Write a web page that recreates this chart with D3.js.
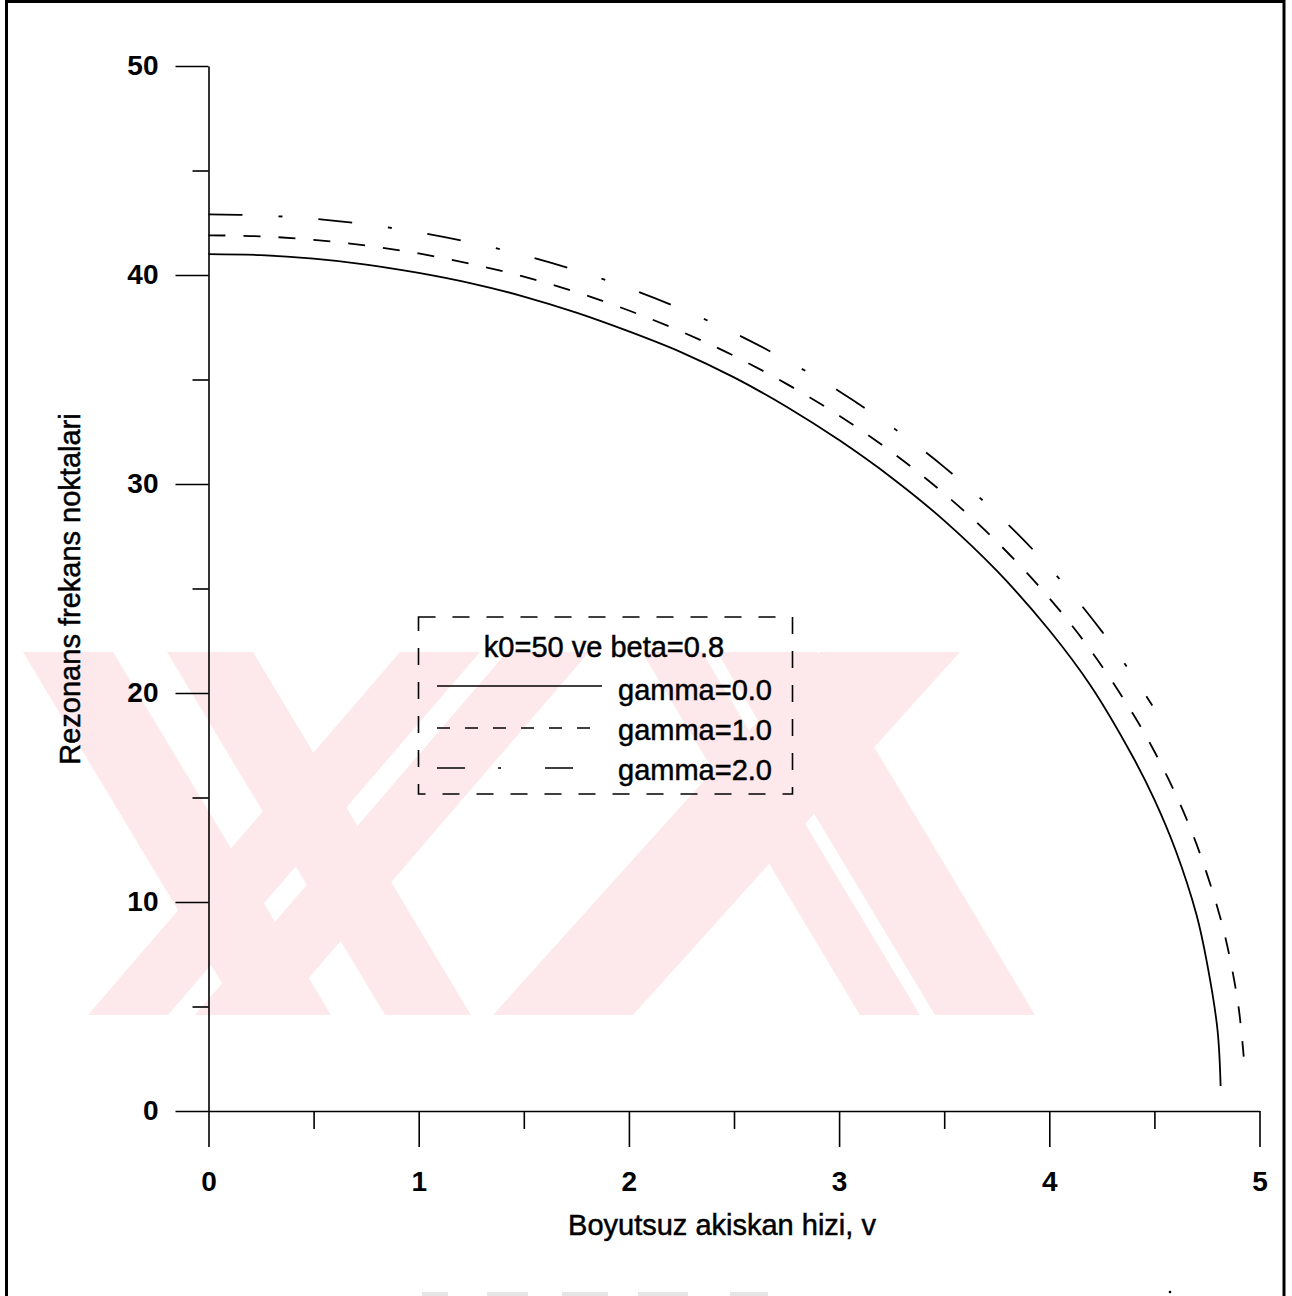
<!DOCTYPE html>
<html><head><meta charset="utf-8">
<script src="https://cdn.jsdelivr.net/npm/d3@7"></script>
<style>body{margin:0;background:#fff}</style>
</head><body>
<svg id="c" width="1292" height="1296" xmlns="http://www.w3.org/2000/svg"></svg>
<script>
// ---- data ----
const vGamma0 = [0,0.25,0.5,0.75,1,1.25,1.5,1.75,2,2.25,2.5,2.75,3,3.25,3.5,3.75,4,4.2,4.4,4.5,4.6,4.7,4.75,4.8,4.815];
const fGamma0 = [41.0,40.95,40.78,40.5,40.1,39.6,38.97,38.2,37.3,36.3,35.1,33.7,32.1,30.3,28.25,25.85,23.0,20.3,16.9,14.9,12.5,9.4,7.1,3.9,1.2];
const vGamma1 = [0,0.25,0.5,0.75,1,1.25,1.5,1.75,2,2.25,2.5,2.75,3,3.25,3.5,3.75,4,4.2,4.4,4.5,4.6,4.7,4.8,4.85,4.9,4.925];
const fGamma1 = [41.9,41.85,41.68,41.41,41.03,40.53,39.92,39.18,38.3,37.29,36.13,34.79,33.27,31.53,29.54,27.24,24.54,22.0,18.97,17.2,15.18,12.78,9.73,7.75,5.0,2.6];
const vGamma2 = [0,0.25,0.5,0.75,1,1.25,1.5,1.75,2,2.25,2.5,2.75,3,3.25,3.5,3.75,4,4.25,4.4,4.49];
const fGamma2 = [42.9,42.85,42.69,42.42,42.04,41.55,40.95,40.22,39.36,38.37,37.23,35.92,34.44,32.74,30.81,28.59,26.01,22.95,20.79,19.4];
const seriesNames = ["gamma=0.0","gamma=1.0","gamma=2.0"];
const legendTitle = "k0=50 ve beta=0.8";
const xMajorTicks = [0,1,2,3,4,5];
const xMinorTicks = [0.5,1.5,2.5,3.5,4.5];
const yMajorTicks = [0,10,20,30,40,50];
const yMinorTicks = [5,15,25,35,45];
const xTitle = "Boyutsuz akiskan hizi, v";
const yTitle = "Rezonans frekans noktalari";

// ---- decoration: faint watermark shapes of the scanned page ----
const watermark = [
  [[23,652],[113,652],[331,1015],[241,1015]],
  [[167,652],[253,652],[471,1015],[385,1015]],
  [[88,1015],[168,1015],[480,652],[400,652]],
  [[195,1015],[277,1015],[589,652],[507,652]],
  [[820,652],[960,652],[633,1015],[493,1015]],
  [[642,652],[702,652],[920,1015],[860,1015]],
  [[717,652],[817,652],[1035,1015],[935,1015]]
];

const FONT = "'Liberation Sans', Arial, Helvetica, sans-serif";
const svg = d3.select('#c');
svg.append('rect').attr('width',1292).attr('height',1296).attr('fill','#fff');

const wm = svg.append('g');
watermark.forEach(p => wm.append('polygon')
  .attr('points', p.map(d => d.join(',')).join(' '))
  .attr('fill', '#fde8ec'));

[[422,448],[487,528],[562,608],[638,688],[730,768]].forEach(r =>
  svg.append('rect').attr('x', r[0]).attr('y', 1292).attr('width', r[1]-r[0]).attr('height', 4).attr('fill', '#e6e6e6'));
svg.append('circle').attr('cx',1170).attr('cy',1292).attr('r',1.3).attr('fill','#000');

svg.append('path').attr('d','M6.5,1300 V1.5 H1284 V1300')
  .attr('fill','none').attr('stroke','#000').attr('stroke-width',3);

const x = d3.scaleLinear().domain([0,5]).range([208.5,1259.5]);
const y = d3.scaleLinear().domain([0,50]).range([1111,66]);

const axisStyle = g => {
  g.selectAll('path,line').attr('stroke','#000').attr('stroke-width',1.6);
  g.selectAll('text').attr('fill','#000').attr('font-family',FONT)
    .attr('font-size',28).attr('font-weight','bold');
};

svg.append('g').attr('transform',`translate(0,${y(0)})`)
  .call(d3.axisBottom(x).tickValues(xMinorTicks).tickSize(18).tickSizeOuter(0).tickFormat(''))
  .call(axisStyle).select('.domain').remove();
svg.append('g').attr('transform',`translate(${x(0)},0)`)
  .call(d3.axisLeft(y).tickValues(yMinorTicks).tickSize(16).tickSizeOuter(0).tickFormat(''))
  .call(axisStyle).select('.domain').remove();
svg.append('g').attr('transform',`translate(0,${y(0)})`)
  .call(d3.axisBottom(x).tickValues(xMajorTicks).tickSize(36).tickSizeOuter(0).tickPadding(24).tickFormat(d3.format('d')))
  .call(axisStyle);
svg.append('g').attr('transform',`translate(${x(0)},0)`)
  .call(d3.axisLeft(y).tickValues(yMajorTicks).tickSize(33).tickSizeOuter(0).tickPadding(17).tickFormat(d3.format('d')))
  .call(axisStyle);

const txt = (sel) => sel.attr('font-family',FONT).attr('font-size',29).attr('fill','#000')
  .attr('stroke','#000').attr('stroke-width',0.5);

svg.append('text').attr('x',722).attr('y',1235).attr('text-anchor','middle').call(txt).text(xTitle);
svg.append('text').attr('transform','translate(80,589) rotate(-90)').attr('text-anchor','middle').call(txt).text(yTitle);

const line = d3.line().x(d => x(d[0])).y(d => y(d[1])).curve(d3.curveCatmullRom.alpha(0.5));
const series = [
  {v: vGamma0, f: fGamma0, dash: null},
  {v: vGamma1, f: fGamma1, dash: '17,18'},
  {v: vGamma2, f: fGamma2, dash: '34,36,4,36'}
];
series.forEach(s => {
  svg.append('path').datum(s.v.map((v,i) => [v, s.f[i]]))
    .attr('d', line).attr('fill','none').attr('stroke','#000').attr('stroke-width',1.8)
    .attr('stroke-dasharray', s.dash);
});

const lg = svg.append('g');
lg.append('rect').attr('x',418.5).attr('y',617).attr('width',374).attr('height',177)
  .attr('fill','none').attr('stroke','#000').attr('stroke-width',1.6).attr('stroke-dasharray','17,17');
lg.append('text').attr('x',604).attr('y',657).attr('text-anchor','middle').call(txt).text(legendTitle);
const legDash = [null,'13,15','28,33,3,44'];
const legEnd = [602,593,582];
const legY = [686,728,768];
const legBase = [700,740,780];
seriesNames.forEach((n,i) => {
  lg.append('line').attr('x1',437).attr('x2',legEnd[i]).attr('y1',legY[i]).attr('y2',legY[i])
    .attr('stroke','#000').attr('stroke-width',1.6).attr('stroke-dasharray',legDash[i]);
  lg.append('text').attr('x',618).attr('y',legBase[i]).call(txt).text(n);
});
</script>
</body></html>
